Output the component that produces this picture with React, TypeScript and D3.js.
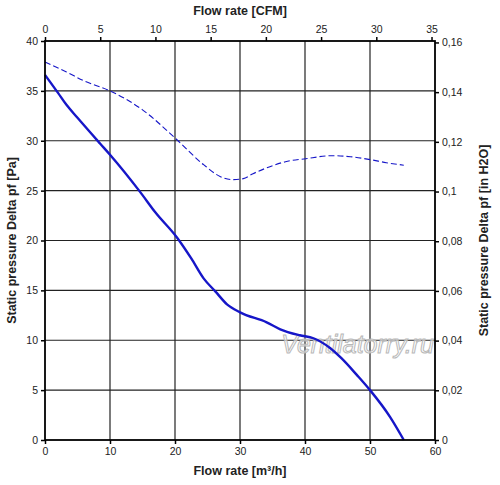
import { useEffect, useRef } from 'react'
import * as d3 from 'd3'

// ── data ────────────────────────────────────────────────────────────────────
const flowM3h   = [0, 2, 3.3, 5, 8.5, 10, 14.6, 17, 20.3, 22.5, 24.4, 26.2, 28, 30, 34.1, 36.2, 39.2, 41.3, 43.9, 45.6, 48, 50, 53.1, 55.2]
const pressPa   = [36.6, 34.8, 33.6, 32.3, 29.7, 28.6, 24.9, 22.8, 20.3, 18.2, 16.2, 14.9, 13.6, 12.8, 11.8, 11.1, 10.5, 10.2, 9.2, 8.2, 6.5, 5.0, 2.3, 0]
const flowM3hB  = [0, 3.3, 6, 10, 15, 20.3, 24.4, 27, 29, 30.5, 32, 34.6, 37, 40.1, 44.1, 47, 50.1, 52.5, 55.2]
const pressPaB  = [37.9, 36.9, 36.0, 35.0, 33.1, 30.1, 27.6, 26.4, 26.1, 26.2, 26.7, 27.4, 27.9, 28.2, 28.5, 28.4, 28.1, 27.8, 27.55]

const xTicksM3h = [0, 10, 20, 30, 40, 50, 60]
const xTicksCfm = [0, 5, 10, 15, 20, 25, 30, 35]
const yTicksPa  = [0, 5, 10, 15, 20, 25, 30, 35, 40]
const yTicksIn  = [0, 0.02, 0.04, 0.06, 0.08, 0.1, 0.12, 0.14, 0.16]

const CFM_TO_M3H  = 1.699
const INH2O_TO_PA = 249.09

// ── constants ───────────────────────────────────────────────────────────────
const W = 500, H = 485
const M = { left: 45, right: 435, top: 41, bottom: 440 }
const FONT  = 'Arial, "Liberation Sans", sans-serif'
const BLUE  = '#1616c8'
const INK   = '#222'

export default function App() {
  const ref = useRef<SVGSVGElement>(null)

  useEffect(() => {
    if (!ref.current) return
    const svg = d3.select(ref.current)
    svg.selectAll('*').remove()

    const x    = d3.scaleLinear().domain([0, 60]).range([M.left, M.right])
    const y    = d3.scaleLinear().domain([0, 40]).range([M.bottom, M.top])
    const xCfm = d3.scaleLinear().domain([0, 35]).range([x(0), x(35 * CFM_TO_M3H)])
    const yIn  = d3.scaleLinear().domain([0, 0.16]).range([y(0), y(0.16 * INH2O_TO_PA)])

    // ── grid ────────────────────────────────────────────────────────────────
    const grid = svg.append('g').attr('stroke', '#222').attr('stroke-width', 1.2)
    grid.selectAll('line.v')
      .data(xTicksM3h.slice(1, -1))
      .join('line')
        .attr('x1', d => x(d)).attr('x2', d => x(d))
        .attr('y1', M.top).attr('y2', M.bottom)
    grid.selectAll('line.h')
      .data(yTicksPa.slice(1, -1))
      .join('line')
        .attr('x1', M.left).attr('x2', M.right)
        .attr('y1', d => y(d)).attr('y2', d => y(d))

    // ── watermark ───────────────────────────────────────────────────────────
    svg.append('text')
      .attr('x', 434).attr('y', 353)
      .attr('text-anchor', 'end')
      .attr('font-family', FONT).attr('font-size', 25).attr('font-style', 'italic')
      .attr('fill', '#fff').attr('fill-opacity', 0.6)
      .attr('stroke', '#b8b8b8').attr('stroke-width', 1)
      .text('Ventilatorry.ru')

    // ── curves ──────────────────────────────────────────────────────────────
    const line = d3.line<[number, number]>()
      .x(d => x(d[0])).y(d => y(d[1]))
      .curve(d3.curveMonotoneX)

    svg.append('path')
      .datum(flowM3hB.map((v, i) => [v, pressPaB[i]] as [number, number]))
      .attr('fill', 'none').attr('stroke', BLUE)
      .attr('stroke-width', 1.1).attr('stroke-dasharray', '6,3')
      .attr('d', line)

    svg.append('path')
      .datum(flowM3h.map((v, i) => [v, pressPa[i]] as [number, number]))
      .attr('fill', 'none').attr('stroke', BLUE)
      .attr('stroke-width', 2.4).attr('stroke-linejoin', 'round')
      .attr('d', line)

    // ── frame ───────────────────────────────────────────────────────────────
    svg.append('rect')
      .attr('x', M.left).attr('y', M.top)
      .attr('width', M.right - M.left).attr('height', M.bottom - M.top)
      .attr('fill', 'none').attr('stroke', '#000').attr('stroke-width', 1.8)

    // ── axes ────────────────────────────────────────────────────────────────
    const style = (gg: d3.Selection<SVGGElement, unknown, null, undefined>) => {
      gg.select('.domain').remove()
      gg.selectAll('line').attr('stroke', '#000').attr('stroke-width', 1.5)
      gg.selectAll('text').attr('fill', INK).attr('font-size', 10.5).attr('font-family', FONT)
    }
    const comma = (v: d3.NumberValue) => (+v === 0 ? '0' : String(+v).replace('.', ','))

    svg.append('g')
      .attr('transform', `translate(0,${M.bottom})`)
      .call(d3.axisBottom(x).tickValues(xTicksM3h).tickSize(4).tickPadding(4))
      .call(style)

    svg.append('g')
      .attr('transform', `translate(0,${M.top})`)
      .call(d3.axisTop(xCfm).tickValues(xTicksCfm).tickSize(4).tickPadding(4))
      .call(style)

    svg.append('g')
      .attr('transform', `translate(${M.left},0)`)
      .call(d3.axisLeft(y).tickValues(yTicksPa).tickSize(4).tickPadding(3))
      .call(style)

    svg.append('g')
      .attr('transform', `translate(${M.right},0)`)
      .call(d3.axisRight(yIn).tickValues(yTicksIn).tickSize(4).tickPadding(3).tickFormat(comma))
      .call(style)

    // ── axis titles ─────────────────────────────────────────────────────────
    const title = (t: string) => svg.append('text')
      .attr('text-anchor', 'middle')
      .attr('font-family', FONT).attr('font-size', 12.5).attr('font-weight', 'bold')
      .attr('fill', INK)
      .text(t)

    title('Flow rate [m³/h]').attr('x', 240).attr('y', 475)
    title('Flow rate [CFM]').attr('x', 240).attr('y', 15)
    title('Static pressure Delta pf [Pa]')
      .attr('transform', `translate(16,${(M.top + M.bottom) / 2}) rotate(-90)`)
    title('Static pressure Delta pf [in H2O]')
      .attr('transform', `translate(488,${(M.top + M.bottom) / 2}) rotate(-90)`)
  }, [])

  return (
    <svg
      ref={ref}
      width={W}
      height={H}
      viewBox={`0 0 ${W} ${H}`}
      style={{ position: 'absolute', left: 0, top: 0, background: '#fff' }}
    />
  )
}
